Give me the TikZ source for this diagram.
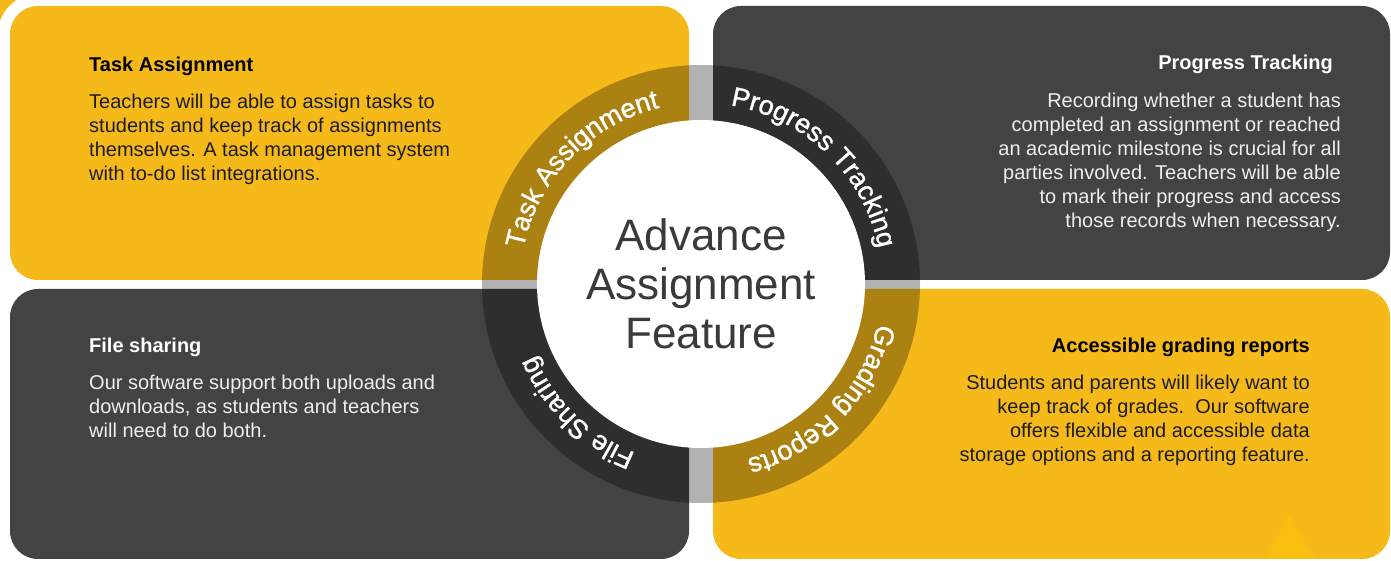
\documentclass[tikz,border=0pt]{standalone}
\usepackage{fontspec}
\setmainfont{Liberation Sans}
\newfontfamily\ringfont[FakeBold=1.2]{Liberation Sans}
\usetikzlibrary{positioning,decorations.text}
\definecolor{panelyellow}{RGB}{246,185,26}
\definecolor{paneldark}{RGB}{67,67,67}
\definecolor{hubtext}{RGB}{58,58,58}
\definecolor{glowyellow}{RGB}{250,190,16}
\definecolor{inkdark}{RGB}{28,28,28}
\definecolor{inklight}{RGB}{238,238,238}

\begin{document}
\begin{tikzpicture}[x=1pt, y=1pt,
	cardhead/.style={font=\fontsize{20}{24}\selectfont\bfseries, inner sep=0pt},
	cardtext/.style={font=\fontsize{20}{24}\selectfont, inner sep=0pt},
	panel/.style={rounded corners=28pt},
	arclabel/.style={decorate, decoration={text along path, text align=center, text color=white,
		text={|\ringfont\fontsize{27}{32}\selectfont|#1}}}]
			
			\useasboundingbox (0,0) rectangle (1391,561);
			
			% Panels
			\begin{scope}
				\clip (0,531) rectangle (30,561);
				\fill[panelyellow] (0,531) rectangle (30,561);
				\fill[white] (38,527) circle (40);
			\end{scope}
			\fill[panel, panelyellow] (10,281) rectangle (689,555);
			\fill[panel, paneldark]   (713,281) rectangle (1390,555);
			\fill[panel, paneldark]   (10,2) rectangle (689,272);
			\fill[panel, panelyellow] (713,2) rectangle (1390,272);
			\fill[glowyellow] (1265,2) -- (1315,2) -- (1289,46) -- cycle;
			
			% Ring and hub
			\node[circle, minimum size=438pt, inner sep=0pt, fill=black, fill opacity=0.3] (ring) at (701,277) {};
			\node[circle, minimum size=328pt, inner sep=0pt, fill=white, text=hubtext, align=center,
				font=\fontsize{44}{49}\selectfont] (hub) at (ring.center) {Advance\\Assignment\\Feature};
			
			\path[arclabel={Task Assignment}]   ([shift={(181:181)}]ring.center) arc[start angle=181, end angle=91, radius=181];
			\path[arclabel={Progress Tracking}] ([shift={(91:181)}]ring.center) arc[start angle=91, end angle=1, radius=181];
			\path[arclabel={Grading Reports}]   ([shift={(1:181)}]ring.center) arc[start angle=1, end angle=-89, radius=181];
			\path[arclabel={File Sharing}]      ([shift={(-89:181)}]ring.center) arc[start angle=-89, end angle=-179, radius=181];
			
			% Panel texts
			\node[cardhead, text=black, anchor=base west] (tahead) at (89,489) {Task Assignment};
			\node[cardtext, text=inkdark, align=left, below=21.7pt of tahead.base west, anchor=north west] (tatext)
				{Teachers will be able to assign tasks to\\students and keep track of assignments\\themselves. A task management system\\with to-do list integrations.};
			
			\node[cardhead, text=white, anchor=base east] (pthead) at (1333,491) {Progress Tracking};
			\node[cardtext, text=inklight, align=right, below=22.7pt of pthead.base east, xshift=8pt, anchor=north east] (pttext)
				{Recording whether a student has\\completed an assignment or reached\\an academic milestone is crucial for all\\parties involved. Teachers will be able\\to mark their progress and access\\those records when necessary.};
			
			\node[cardhead, text=white, anchor=base west] (fshead) at (89,208) {File sharing};
			\node[cardtext, text=inklight, align=left, below=21.7pt of fshead.base west, anchor=north west] (fstext)
				{Our software support both uploads and\\downloads, as students and teachers\\will need to do both.};
			
			\node[cardhead, text=black, anchor=base east] (grhead) at (1310,208) {Accessible grading reports};
			\node[cardtext, text=inkdark, align=right, below=21.7pt of grhead.base east, anchor=north east] (grtext)
				{Students and parents will likely want to\\keep track of grades.\ \ Our software\\offers flexible and accessible data\\storage options and a reporting feature.};
			
			\end{tikzpicture}
\end{document}
